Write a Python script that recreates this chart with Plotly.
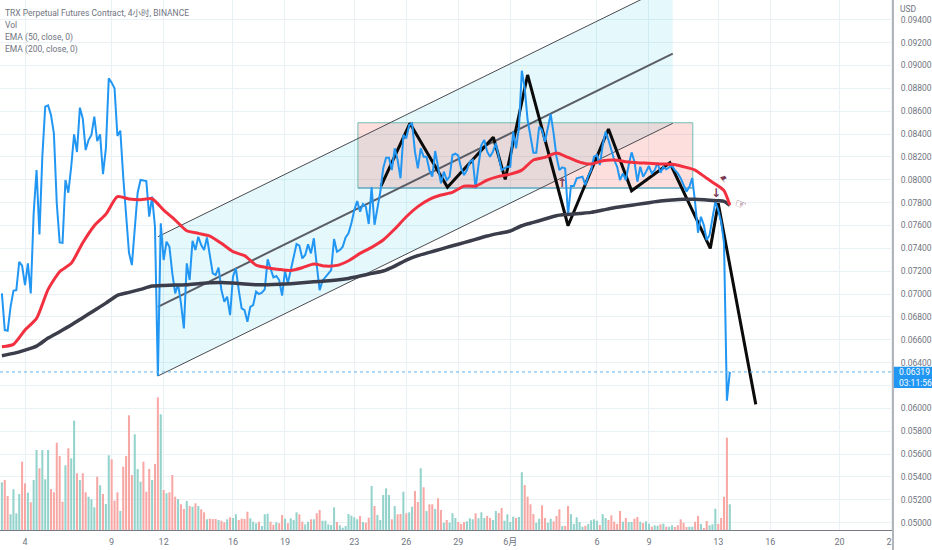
import pandas as pd
import plotly.graph_objects as go

bar_start = "2022-05-02 16:00"
close = [
0.07006,0.06685,0.06679,0.06889,0.07029,0.07035,0.07283,0.07248,0.07079,0.07269,
0.07006,0.07706,0.08085,0.07522,0.08202,0.08640,0.08651,0.08567,0.08406,0.07794,
0.07452,0.07449,0.07998,0.07887,0.08114,0.08397,0.08243,0.08631,0.08537,0.08260,
0.08348,0.08392,0.08552,0.08339,0.08397,0.08050,0.08275,0.08888,0.08850,0.08800,
0.08383,0.08430,0.08027,0.07677,0.07362,0.07254,0.07589,0.07887,0.07998,0.07995,
0.07989,0.07677,0.07852,0.07589,0.06283,0.07619,0.07298,0.07458,0.07414,0.07181,
0.07006,0.07088,0.06919,0.06700,0.07269,0.07123,0.07467,0.07385,0.07502,0.07429,
0.07385,0.07496,0.07356,0.07181,0.07167,0.07231,0.07035,0.06933,0.06977,0.06816,
0.07152,0.07225,0.07035,0.06875,0.06860,0.06758,0.06889,0.06904,0.07021,0.07000,
0.07012,0.07041,0.07304,0.07225,0.07146,0.07158,0.07123,0.06986,0.07202,0.07094,
0.07210,0.07342,0.07438,0.07423,0.07312,0.07342,0.07435,0.07356,0.07488,0.07254,
0.07035,0.07117,0.07146,0.07181,0.07210,0.07482,0.07371,0.07385,0.07415,0.07496,
0.07531,0.07619,0.07735,0.07814,0.07721,0.07788,0.07765,0.07613,0.07937,0.07607,
0.07765,0.07893,0.08100,0.08193,0.08193,0.08085,0.08275,0.08173,0.08013,0.08392,
0.08363,0.08479,0.08494,0.08246,0.08100,0.08275,0.08202,0.08202,0.08085,0.08027,
0.08252,0.08100,0.07969,0.08071,0.07998,0.08027,0.08217,0.08228,0.08211,0.08100,
0.08042,0.08085,0.08158,0.08173,0.07925,0.08129,0.08304,0.08348,0.08246,0.08202,
0.08246,0.08319,0.08188,0.08085,0.08100,0.08114,0.08114,0.08421,0.08275,0.08453,
0.08954,0.08803,0.08523,0.08374,0.08237,0.08237,0.08464,0.08435,0.08333,0.08453,
0.08575,0.08407,0.08202,0.08085,0.08109,0.08100,0.07692,0.07945,0.07945,0.08013,
0.08022,0.08027,0.07954,0.08033,0.08085,0.08202,0.08217,0.08129,0.08304,0.08421,
0.08348,0.08260,0.08173,0.08114,0.07998,0.08057,0.07998,0.08129,0.08240,0.08158,
0.07983,0.08114,0.08027,0.08071,0.08120,0.08057,0.08085,0.08149,0.08062,0.08114,
0.08092,0.08109,0.08120,0.08085,0.08057,0.08013,0.07954,0.07896,0.07939,0.08015,
0.07797,0.07537,0.07677,0.07604,0.07473,0.07517,0.07665,0.07808,0.07735,0.07633,
0.07447,0.06067,0.06319]

volume = [
47.7,50,34,15.7,40.7,16.7,36,68.3,46.7,37.3,27.7,50,80,61.7,80,50.7,80,41,37.7,87.3,
74,28.3,64.7,81.7,71.7,109.3,56.7,50,56.7,37.7,33.3,30.7,22.7,53.3,44.7,36,26,74.7,70.7,29.3,
37.7,19,63.3,74,114.7,55,95.7,61,48.3,68.3,38.3,61,50,66,132.7,115.7,40,36.7,37.7,55,
33.3,31,25.7,21,29,24,23.3,26.7,24,20.7,17.7,10.7,11.3,11,11,10,9.3,7.7,10.7,12.7,
12,15.7,10,11.3,11,18.3,11.7,8.3,6.7,8.3,4,15.7,16.3,8.3,5.3,7.7,6.7,15,11.3,6.7,
11.7,10,17.7,15.7,8.3,5.7,8.3,10.7,10.7,16.7,20,9.3,9.3,5.7,5,22.7,8,4.7,2.3,4,
16,14.3,12.7,10.7,14,8,7.3,12.3,44,24,15,10,35,41.7,35,10.7,24,15.7,16,38.3,
16.7,17.7,23.3,39,28,61.7,42.7,19,25.7,25.7,21,31.7,20,7.3,10,7.3,16.7,12,8,6,
8,8.7,11.7,10.7,16.7,11.7,17.7,12,14,12,10,19,17,22,9.3,15.7,8,13.3,12,13,
57.7,45,33.3,25.7,16,7.3,11.3,24.7,12,7.3,11.3,8.7,14,20.7,4,4,24,16,6,12.7,
8,3.3,4.3,6,9.7,10.7,9.3,5,15.7,12,10,14.7,8.3,6,19,8.3,12,8,8,11.3,
13,8.3,7,8.7,6.3,3.3,4.7,4.3,5.7,6.3,3.3,3.3,4.7,3,4.7,10.7,7.3,3,3.3,3.3,
8.3,14,6,1.7,9,4.7,5.7,21.3,6,12,33.3,92.3,25.7]

ema_bars = list(range(0, 249, 4)) + [250, 252]
ema50 = [
0.06539,0.06560,0.06685,0.06787,0.07041,0.07196,0.07269,0.07449,0.07598,0.07700,
0.07852,0.07832,0.07826,0.07834,0.07735,0.07648,0.07554,0.07531,0.07508,0.07444,
0.07371,0.07336,0.07254,0.07231,0.07216,0.07207,0.07231,0.07263,0.07245,0.07251,
0.07292,0.07356,0.07409,0.07473,0.07569,0.07677,0.07765,0.07829,0.07867,0.07890,
0.07945,0.07945,0.07998,0.08030,0.08050,0.08085,0.08173,0.08196,0.08234,0.08196,
0.08155,0.08138,0.08167,0.08173,0.08158,0.08149,0.08144,0.08138,0.08135,0.08114,
0.08085,0.08013,0.07945,0.07905,0.07780]
ema200 = [
0.06461,0.06481,0.06510,0.06545,0.06615,0.06671,0.06729,0.06793,0.06857,0.06921,
0.06989,0.07015,0.07041,0.07070,0.07076,0.07079,0.07082,0.07091,0.07099,0.07102,
0.07096,0.07088,0.07082,0.07082,0.07085,0.07091,0.07099,0.07108,0.07114,0.07123,
0.07137,0.07158,0.07181,0.07202,0.07245,0.07298,0.07336,0.07365,0.07394,0.07423,
0.07450,0.07479,0.07508,0.07531,0.07552,0.07598,0.07627,0.07657,0.07686,0.07697,
0.07706,0.07715,0.07735,0.07756,0.07770,0.07785,0.07800,0.07814,0.07823,0.07829,
0.07829,0.07823,0.07817,0.07811,0.07776]

zigzag_time = ["2022-05-24 13:00","2022-05-26 05:00","2022-05-28 09:00","2022-05-31 00:30",
               "2022-05-31 17:00","2022-06-02 00:00","2022-06-04 08:00","2022-06-06 16:00",
               "2022-06-08 00:00","2022-06-10 05:00","2022-06-12 13:00","2022-06-13 00:00",
               "2022-06-15 04:00"]
zigzag_price = [0.07945,0.08494,0.07934,0.08372,0.08004,0.08917,0.07598,0.08444,0.07904,
                0.08149,0.07400,0.07794,0.06035]

chan_time = ["2022-05-11 16:00","2022-06-10 09:00"]
chan_top = [0.07502,0.09713]
chan_mid = [0.06889,0.09103]
chan_low = [0.06283,0.08494]
rect_time = ["2022-05-23 05:00","2022-06-11 12:45"]
rect_price = [0.07928,0.08499]
last_price = 0.06319
tag_price_range = [0.06178,0.06364]
tag_timer_price = 0.06220

tick_dates = ["2022-05-04","2022-05-09","2022-05-12","2022-05-16","2022-05-19","2022-05-23",
              "2022-05-26","2022-05-29","2022-06-01","2022-06-06","2022-06-09","2022-06-13",
              "2022-06-16","2022-06-20","2022-06-23"]
tick_labels = ["4","9","12","16","19","23","26","29","6月","6","9","13","16","20","23"]
price_ticks = [0.05 + 0.002 * k for k in range(23)]
price_labels = ["" if abs(v - 0.062) < 1e-6 else f"{v:.5f}" for v in price_ticks]
legend_rows = ["TRX Perpetual Futures Contract, 4小时, BINANCE", "Vol", "EMA (50, close, 0)", "EMA (200, close, 0)"]

GREY = "#6f7480"
FONT = "Roboto, 'Noto Sans CJK SC', sans-serif"
times = pd.date_range(bar_start, periods=len(close), freq="4h")
ema_times = times[ema_bars]
bar_colors = ["#f7a8a5" if i > 0 and close[i] < close[i - 1] else "#93d3cc" for i in range(len(close))]

fig = go.Figure()
fig.add_trace(go.Bar(x=times, y=volume, yaxis="y2", width=10200000,
                     marker=dict(color=bar_colors, line=dict(width=0))))
fig.add_trace(go.Scatter(x=[chan_time[0], chan_time[1], chan_time[1], chan_time[0], chan_time[0]],
                         y=[chan_top[0], chan_top[1], chan_low[1], chan_low[0], chan_top[0]],
                         mode="lines", line=dict(width=0), fill="toself", fillcolor="rgba(0,188,212,0.10)"))
fig.add_trace(go.Scatter(x=[rect_time[0], rect_time[1], rect_time[1], rect_time[0], rect_time[0]],
                         y=[rect_price[0], rect_price[0], rect_price[1], rect_price[1], rect_price[0]],
                         mode="lines", line=dict(width=1, color="#72bdb5"), fill="toself",
                         fillcolor="rgba(244,67,54,0.17)"))
fig.add_trace(go.Scatter(x=rect_time, y=[rect_price[0], rect_price[0]], mode="lines",
                         line=dict(width=1, color="#5a9fc8")))
fig.add_trace(go.Scatter(x=chan_time, y=chan_top, mode="lines", line=dict(width=1, color="#4a4a50")))
fig.add_trace(go.Scatter(x=chan_time, y=chan_low, mode="lines", line=dict(width=1, color="#4a4a50")))
fig.add_trace(go.Scatter(x=chan_time, y=chan_mid, mode="lines", line=dict(width=2, color="#5a5d66")))
fig.add_trace(go.Scatter(x=zigzag_time, y=zigzag_price, mode="lines", line=dict(width=3, color="#0b0b0b")))
fig.add_trace(go.Scatter(x=times, y=close, mode="lines", line=dict(width=2, color="#2196f3")))
fig.add_trace(go.Scatter(x=ema_times, y=ema200, mode="lines", line=dict(width=3.5, color="#3b3e4a", shape="spline", smoothing=0.6)))
fig.add_trace(go.Scatter(x=ema_times, y=ema50, mode="lines", line=dict(width=3, color="#f2303f", shape="spline", smoothing=0.6)))

shapes = [
    dict(type="line", xref="paper", x0=0, x1=1, yref="y", y0=last_price, y1=last_price,
         line=dict(color="#5db5f0", width=1, dash="dot"), layer="above"),
    dict(type="rect", xref="paper", x0=1.0, x1=1.05, yref="paper", y0=-0.04, y1=-0.001,
         fillcolor="white", line=dict(width=0), layer="above"),
    dict(type="line", xref="paper", x0=1.0, x1=1.0, yref="paper", y0=-0.04, y1=1,
         line=dict(color="#b2b5be", width=2), layer="above"),
    dict(type="rect", xref="paper", x0=1.001, x1=1.044, yref="y", y0=tag_price_range[0], y1=tag_price_range[1],
         fillcolor="#2196f3", line=dict(width=0), layer="above"),
]

ann = []
for row, text in enumerate(legend_rows):
    ann.append(dict(xref="paper", yref="paper", x=0.0035, y=1 - (13 + 12.2 * row) / 530, text=text,
                    showarrow=False, xanchor="left", yanchor="middle",
                    font=dict(family=FONT, size=8.5, color=GREY)))
ann.append(dict(xref="paper", yref="paper", x=1.0056, y=1 - 9 / 530, text="USD", showarrow=False,
                xanchor="left", yanchor="middle", font=dict(family=FONT, size=8.5, color=GREY)))
ann.append(dict(xref="paper", yref="y", x=1.0045, y=last_price, text="0.06319", showarrow=False,
                xanchor="left", yanchor="middle", font=dict(family=FONT, size=8.5, color="white")))
ann.append(dict(xref="paper", yref="y", x=1.0045, y=tag_timer_price, text="03:11:56", showarrow=False,
                xanchor="left", yanchor="middle", font=dict(family=FONT, size=8.5, color="white")))
MAROON = "#7c3a55"
for t, p, sym, size, ang in [("2022-06-04 00:00", 0.07974, "<b>↑</b>", 12, 0),
                             ("2022-06-12 21:00", 0.07884, "<b>↓</b>", 12, 0),
                             ("2022-06-13 08:00", 0.08010, "<b>⚑</b>", 9, -40),
                             ("2022-06-14 08:00", 0.07785, "<b>☞</b>", 13, 20)]:
    ann.append(dict(x=t, y=p, text=sym, showarrow=False, textangle=ang,
                    font=dict(family="DejaVu Sans", size=size, color=MAROON)))

fig.update_layout(
    width=932, height=550, margin=dict(l=0, r=39, t=0, b=20), showlegend=False,
    paper_bgcolor="white", plot_bgcolor="white", barmode="overlay", shapes=shapes, annotations=ann,
    font=dict(family=FONT, size=9, color=GREY),
    xaxis=dict(type="date", range=["2022-05-02 13:23", "2022-06-23 02:00"], tickmode="array",
               tickvals=tick_dates, ticktext=tick_labels, showgrid=True, gridcolor="#e9f1f5", gridwidth=1,
               showline=True, linecolor="#787b86", linewidth=1, zeroline=False,
               ticks="outside", ticklen=3, tickcolor="rgba(0,0,0,0)", tickangle=0,
               tickfont=dict(family=FONT, size=9, color=GREY)),
    yaxis=dict(side="right", range=[0.04936, 0.09573], tickmode="array", tickvals=price_ticks,
               ticktext=price_labels, showgrid=True, gridcolor="#e9f1f5", gridwidth=1, zeroline=False,
               ticks="outside", ticklen=5, tickcolor="rgba(0,0,0,0)",
               tickfont=dict(family=FONT, size=8.5, color=GREY)),
    yaxis2=dict(overlaying="y", side="left", range=[0, 530], visible=False, showgrid=False),
)
fig.write_html("out.html", config=dict(displayModeBar=False),
               post_script="document.body.style.margin='0';document.body.style.overflow='hidden';")
